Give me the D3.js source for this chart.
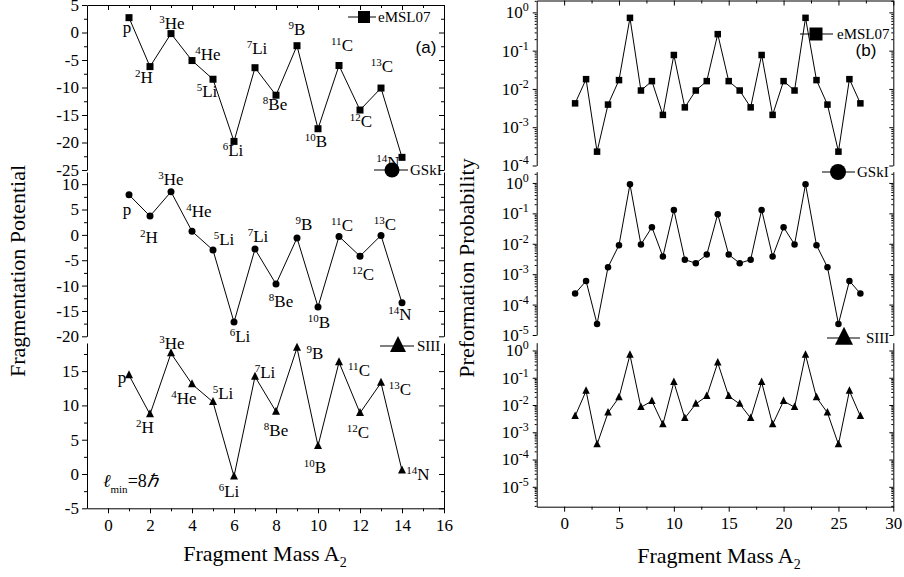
<!DOCTYPE html>
<html>
<head>
<meta charset="utf-8">
<script src="https://cdn.jsdelivr.net/npm/d3@7"></script>
<style>
  body { margin: 0; background: #fff; }
  svg { display: block; }
</style>
</head>
<body>
<script>
// fragment masses A2
const massL = [1, 2, 3, 4, 5, 6, 7, 8, 9, 10, 11, 12, 13, 14];
const massR = [1, 2, 3, 4, 5, 6, 7, 8, 9, 10, 11, 12, 13, 14, 15, 16, 17, 18, 19, 20, 21, 22, 23, 24, 25, 26, 27];

// (a) fragmentation potential
const fpEMSL = [2.7, -6.2, -0.2, -5.1, -8.5, -19.8, -6.4, -11.4, -2.4, -17.5, -6.0, -14.1, -10.1, -22.7];
const fpGSKI = [7.9, 3.7, 8.5, 0.7, -3.0, -17.2, -2.8, -9.7, -0.6, -14.2, -0.3, -4.2, -0.1, -13.4];
const fpSIII = [14.4, 8.7, 17.6, 13.1, 10.5, -0.35, 14.2, 9.1, 18.4, 4.1, 16.3, 8.9, 13.3, 0.5];

// (b) preformation probability
const ppEMSL = [4.2e-3, 1.8e-2, 2.3e-4, 3.9e-3, 1.7e-2, 0.72, 9.1e-3, 1.6e-2, 2.1e-3, 7.7e-2, 3.3e-3, 9.1e-3, 1.6e-2, 0.27,
                1.6e-2, 9.1e-3, 3.3e-3, 7.7e-2, 2.1e-3, 1.6e-2, 9.1e-3, 0.72, 1.7e-2, 3.9e-3, 2.3e-4, 1.8e-2, 4.2e-3];
const ppGSKI = [2.3e-4, 6e-4, 2.3e-5, 1.7e-3, 9e-3, 0.9, 9.5e-3, 3.5e-2, 3.8e-3, 0.13, 3e-3, 2.3e-3, 4.4e-3, 9.4e-2,
                4.4e-3, 2.3e-3, 3e-3, 0.13, 3.8e-3, 3.5e-2, 9.5e-3, 0.9, 9e-3, 1.7e-3, 2.3e-5, 6e-4, 2.3e-4];
const ppSIII = [3.9e-3, 3.3e-2, 3.6e-4, 5.2e-3, 1.9e-2, 0.69, 8.3e-3, 1.4e-2, 1.95e-3, 6.9e-2, 3.3e-3, 1.1e-2, 2.1e-2, 0.355,
                2.1e-2, 1.1e-2, 3.3e-3, 6.9e-2, 1.95e-3, 1.4e-2, 8.3e-3, 0.69, 1.9e-2, 5.2e-3, 3.6e-4, 3.3e-2, 3.9e-3];

// fragment names
const isoMass = ["", "2", "3", "4", "5", "6", "7", "8", "9", "10", "11", "12", "13", "14"];
const isoElem = ["p", "H", "He", "He", "Li", "Li", "Li", "Be", "B", "B", "C", "C", "C", "N"];

// where each name sits relative to its point (px)
const offEMSL = [[-2,15],[-6,16],[1,-5],[16,-1],[-6,18],[-1,15],[2,-14],[-1,15],[0,-11],[-2,18],[3,-15],[1,17],[1,-16],[-14,11]];
const offGSKI = [[-2,20],[-1,27],[0,-7],[7,-14],[11,-5],[6,20],[3,-7],[5,23],[7,-8],[1,21],[3,-5],[3,24],[4,-5],[-2,17]];
const offSIII = [[-7,8],[-5,19],[1,-4],[-8,20],[10,-3],[-5,21],[10,1],[0,24],[18,11],[-3,27],[20,14],[-2,25],[19,12],[16,9]];

// ticks
const xTicksL = [0, 2, 4, 6, 8, 10, 12, 14, 16];
const xTicksR = [0, 5, 10, 15, 20, 25, 30];
const yTicksTop = [5, 0, -5, -10, -15, -20, -25];
const yTicksMid = [10, 5, 0, -5, -10, -15, -20];
const yTicksBot = [15, 10, 5, 0, -5];
const expTop = [0, -1, -2, -3, -4];
const expMid = [0, -1, -2, -3, -4, -5];
const expBot = [0, -1, -2, -3, -4, -5];

const serif = "'Liberation Serif','Times New Roman',serif";
const sans = "'Liberation Sans',Arial,sans-serif";

const svg = d3.select("body").append("svg")
    .attr("width", 904)
    .attr("height", 577);

const xL = d3.scaleLinear().domain([-1, 16]).range([87, 444]);
const xR = d3.scaleLinear().domain([-2.5, 30]).range([536.7, 893.3]);

function marker(g, type, x, y, s) {
    if (type === "square") {
        g.append("rect").attr("x", x - s / 2).attr("y", y - s / 2)
            .attr("width", s).attr("height", s).attr("fill", "black");
    } else if (type === "circle") {
        g.append("circle").attr("cx", x).attr("cy", y).attr("r", s / 2).attr("fill", "black");
    } else {
        g.append("path")
            .attr("d", `M${x},${y - s * 0.62}L${x + s / 2},${y + s * 0.38}L${x - s / 2},${y + s * 0.38}Z`)
            .attr("fill", "black");
    }
}

function styleAxis(a) {
    a.attr("font-family", serif).attr("font-size", 17);
    a.selectAll("path, line").attr("stroke", "black").attr("stroke-width", 1);
    a.selectAll("text").attr("fill", "black");
}

function minorsOf(majors, step, dom) {
    const lo = Math.min(dom[0], dom[1]), hi = Math.max(dom[0], dom[1]);
    const out = [];
    majors.forEach(m => { if (m + step > lo && m + step < hi) out.push(m + step); });
    majors.forEach(m => { if (m - step > lo && m - step < hi && !out.includes(m - step)) out.push(m - step); });
    return out;
}

function drawXAxes(x, ticks, minorStep, yTopPx, yBotPx, pad) {
    const minor = minorsOf(ticks, minorStep, x.domain());
    const bot = svg.append("g").attr("transform", `translate(0,${yBotPx})`)
        .call(d3.axisBottom(x).tickValues(ticks).tickSize(5).tickPadding(pad).tickSizeOuter(0).tickFormat(d => String(d)));
    styleAxis(bot);
    const botMinor = svg.append("g").attr("transform", `translate(0,${yBotPx})`)
        .call(d3.axisBottom(x).tickValues(minor).tickSize(3).tickFormat(""));
    botMinor.select(".domain").remove();
    styleAxis(botMinor);
    const top = svg.append("g").attr("transform", `translate(0,${yTopPx})`)
        .call(d3.axisTop(x).tickValues(ticks).tickSize(-5).tickSizeOuter(0).tickFormat(""));
    styleAxis(top);
    const topMinor = svg.append("g").attr("transform", `translate(0,${yTopPx})`)
        .call(d3.axisTop(x).tickValues(minor).tickSize(-3).tickFormat(""));
    topMinor.select(".domain").remove();
    styleAxis(topMinor);
}

function isoLabel(g, i, px, py, off) {
    const t = g.append("text")
        .attr("x", px + off[0]).attr("y", py + off[1])
        .attr("text-anchor", "middle")
        .attr("font-family", serif);
    if (isoMass[i]) {
        t.append("tspan").attr("font-size", 11).attr("dy", -6).text(isoMass[i]);
        t.append("tspan").attr("font-size", 17).attr("dy", 6).text(isoElem[i]);
    } else {
        t.append("tspan").attr("font-size", 17).text(isoElem[i]);
    }
}

function leftPanel(vals, dom, rng, ticks, type, size, offs) {
    const y = d3.scaleLinear().domain(dom).range(rng);
    const minor = minorsOf(ticks, 2.5, dom);
    const x0 = xL.range()[0], x1 = xL.range()[1];

    const ax = svg.append("g").attr("transform", `translate(${x0},0)`)
        .call(d3.axisLeft(y).tickValues(ticks).tickSize(5).tickPadding(3).tickSizeOuter(0).tickFormat(d => String(d)));
    styleAxis(ax);
    const axm = svg.append("g").attr("transform", `translate(${x0},0)`)
        .call(d3.axisLeft(y).tickValues(minor).tickSize(3).tickFormat(""));
    axm.select(".domain").remove();
    styleAxis(axm);

    const ar = svg.append("g").attr("transform", `translate(${x1},0)`)
        .call(d3.axisRight(y).tickValues(ticks).tickSize(-5).tickSizeOuter(0).tickFormat(""));
    styleAxis(ar);
    const arm = svg.append("g").attr("transform", `translate(${x1},0)`)
        .call(d3.axisRight(y).tickValues(minor).tickSize(-3).tickFormat(""));
    arm.select(".domain").remove();
    styleAxis(arm);

    const pts = massL.map((m, i) => [m, vals[i]]);
    const g = svg.append("g");
    g.append("path")
        .attr("d", d3.line().x(d => xL(d[0])).y(d => y(d[1]))(pts))
        .attr("fill", "none").attr("stroke", "black").attr("stroke-width", 1);
    pts.forEach(d => marker(g, type, xL(d[0]), y(d[1]), size));
    pts.forEach((d, i) => isoLabel(g, i, xL(d[0]), y(d[1]), offs[i]));
}

function rightPanel(vals, dom, rng, exps, type, size) {
    const y = d3.scaleLog().domain(dom).range(rng);
    const majors = exps.map(e => Math.pow(10, e));
    const minor = [];
    for (let e = -7; e <= 0; e++) {
        for (let m = 2; m <= 9; m++) {
            const v = m * Math.pow(10, e);
            if (v > dom[0] && v < dom[1]) minor.push(v);
        }
    }
    const x0 = xR.range()[0], x1 = xR.range()[1];

    const ax = svg.append("g").attr("transform", `translate(${x0},0)`)
        .call(d3.axisLeft(y).tickValues(majors).tickSize(4).tickPadding(4).tickSizeOuter(0));
    styleAxis(ax);
    ax.selectAll(".tick text").each(function (d, i) {
        const t = d3.select(this);
        t.text(null);
        t.append("tspan").text("10");
        t.append("tspan").attr("font-size", 12).attr("dy", -7).text(String(exps[i]));
    });
    const axm = svg.append("g").attr("transform", `translate(${x0},0)`)
        .call(d3.axisLeft(y).tickValues(minor).tickSize(2).tickFormat(""));
    axm.select(".domain").remove();
    styleAxis(axm);

    const ar = svg.append("g").attr("transform", `translate(${x1},0)`)
        .call(d3.axisRight(y).tickValues(majors).tickSize(-4).tickSizeOuter(0).tickFormat(""));
    styleAxis(ar);
    const arm = svg.append("g").attr("transform", `translate(${x1},0)`)
        .call(d3.axisRight(y).tickValues(minor).tickSize(-2).tickFormat(""));
    arm.select(".domain").remove();
    styleAxis(arm);

    const pts = massR.map((m, i) => [m, vals[i]]);
    const g = svg.append("g");
    g.append("path")
        .attr("d", d3.line().x(d => xR(d[0])).y(d => y(d[1]))(pts))
        .attr("fill", "none").attr("stroke", "black").attr("stroke-width", 1);
    pts.forEach(d => marker(g, type, xR(d[0]), y(d[1]), size));
}

function legend(xa, xb, xm, y, type, size, tx, label) {
    const g = svg.append("g");
    g.append("line").attr("x1", xa).attr("x2", xb).attr("y1", y).attr("y2", y)
        .attr("stroke", "black").attr("stroke-width", 1);
    marker(g, type, xm, y, size);
    g.append("text").attr("x", tx).attr("y", y + 5)
        .attr("font-family", serif).attr("font-size", 15).text(label);
}

// (a) panels
drawXAxes(xL, xTicksL, 1, 5, 508.3, 6);
leftPanel(fpEMSL, [-25, 5], [170, 5], yTicksTop, "square", 7, offEMSL);
leftPanel(fpGSKI, [-20, 12.4], [336.3, 172], yTicksMid, "circle", 7, offGSKI);
leftPanel(fpSIII, [-5, 19.1], [508.3, 343], yTicksBot, "triangle", 8, offSIII);

// (b) panels
drawXAxes(xR, xTicksR, 2.5, 0.5, 506.7, 5);
rightPanel(ppEMSL, [1e-4, Math.pow(10, 0.31)], [165.5, 0.5], expTop, "square", 6.5);
rightPanel(ppGSKI, [1e-5, Math.pow(10, 0.37)], [335, 171.7], expMid, "circle", 6.5);
rightPanel(ppSIII, [Math.pow(10, -5.73), Math.pow(10, 0.286)], [506.7, 342.7], expBot, "triangle", 7.5);

// legends
legend(348, 376, 364, 17, "square", 12, 378, "eMSL07");
legend(374, 408, 392, 170, "circle", 15, 410, "GSkI");
legend(380, 414, 398, 346, "triangle", 16, 417, "SIII");
legend(800, 833, 816, 34, "square", 13, 837, "eMSL07");
legend(822, 855, 838, 172, "circle", 16, 857, "GSkI");
legend(827, 860, 844, 338, "triangle", 18, 866, "SIII");

svg.append("text").attr("x", 426).attr("y", 53).attr("text-anchor", "middle")
    .attr("font-family", sans).attr("font-size", 17).text("(a)");
svg.append("text").attr("x", 866).attr("y", 56).attr("text-anchor", "middle")
    .attr("font-family", sans).attr("font-size", 17).text("(b)");

// l_min annotation
const lmin = svg.append("text").attr("x", 103).attr("y", 487)
    .attr("font-family", serif).attr("font-size", 18);
lmin.append("tspan").attr("font-style", "italic").text("\u2113");
lmin.append("tspan").attr("font-size", 11).attr("dy", 6).text("min");
lmin.append("tspan").attr("dy", -6).text("=8");
lmin.append("tspan").attr("font-style", "italic").text("\u210F");

// axis titles
svg.append("text").attr("transform", "translate(25,271) rotate(-90)")
    .attr("text-anchor", "middle").attr("font-family", serif).attr("font-size", 22)
    .text("Fragmentation Potential");
svg.append("text").attr("transform", "translate(474,268) rotate(-90)")
    .attr("text-anchor", "middle").attr("font-family", serif).attr("font-size", 22)
    .text("Preformation Probability");

[[265, 561], [719, 563]].forEach(p => {
    const t = svg.append("text").attr("x", p[0]).attr("y", p[1])
        .attr("text-anchor", "middle").attr("font-family", serif).attr("font-size", 22);
    t.append("tspan").text("Fragment Mass A");
    t.append("tspan").attr("font-size", 14).attr("dy", 6).text("2");
});
</script>
</body>
</html>
